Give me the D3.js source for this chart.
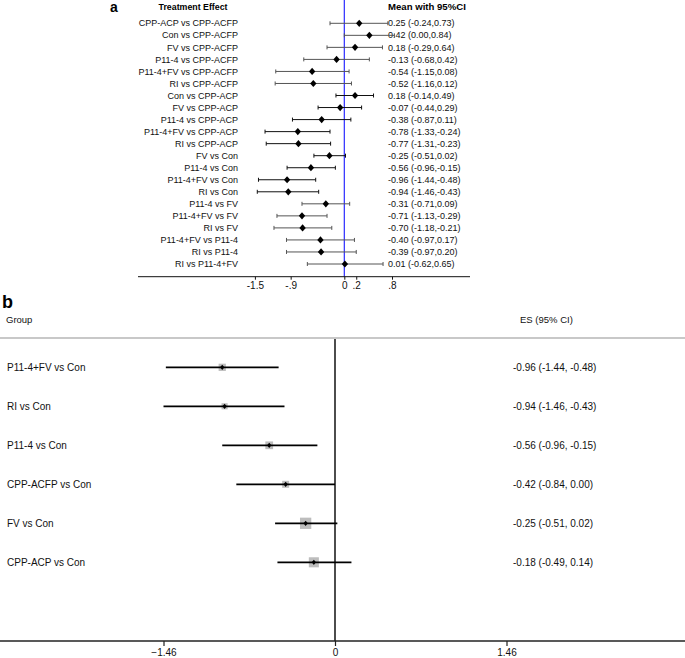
<!DOCTYPE html>
<html>
<head>
<meta charset="utf-8">
<script src="https://cdn.jsdelivr.net/npm/d3@7"></script>
<style>
  html, body { margin: 0; padding: 0; background: #fff; }
  svg { display: block; font-family: "Liberation Sans", Arial, Helvetica, sans-serif; }
</style>
</head>
<body>
<svg id="chart" width="685" height="658"></svg>
<script>
// ---------- Panel a data ----------
const labelsA = [
  "CPP-ACP vs CPP-ACFP", "Con vs CPP-ACFP", "FV vs CPP-ACFP", "P11-4 vs CPP-ACFP",
  "P11-4+FV vs CPP-ACFP", "RI vs CPP-ACFP", "Con vs CPP-ACP", "FV vs CPP-ACP",
  "P11-4 vs CPP-ACP", "P11-4+FV vs CPP-ACP", "RI vs CPP-ACP", "FV vs Con",
  "P11-4 vs Con", "P11-4+FV vs Con", "RI vs Con", "P11-4 vs FV",
  "P11-4+FV vs FV", "RI vs FV", "P11-4+FV vs P11-4", "RI vs P11-4", "RI vs P11-4+FV"
];
const meansA = [0.25, 0.42, 0.18, -0.13, -0.54, -0.52, 0.18, -0.07, -0.38, -0.78, -0.77,
  -0.25, -0.56, -0.96, -0.94, -0.31, -0.71, -0.70, -0.40, -0.39, 0.01];
const lowsA = [-0.24, 0.00, -0.29, -0.68, -1.15, -1.16, -0.14, -0.44, -0.87, -1.33, -1.31,
  -0.51, -0.96, -1.44, -1.46, -0.71, -1.13, -1.18, -0.97, -0.97, -0.62];
const highsA = [0.73, 0.84, 0.64, 0.42, 0.08, 0.12, 0.49, 0.29, 0.11, -0.24, -0.23,
  0.02, -0.15, -0.48, -0.43, 0.09, -0.29, -0.21, 0.17, 0.20, 0.65];
const ticksA = [-1.5, -0.9, 0, 0.2, 0.8];
const tickLabelsA = ["-1.5", "-.9", "0", ".2", ".8"];

// ---------- Panel b data ----------
const labelsB = ["P11-4+FV vs Con", "RI vs Con", "P11-4 vs Con", "CPP-ACFP vs Con", "FV vs Con", "CPP-ACP vs Con"];
const esB = [-0.96, -0.94, -0.56, -0.42, -0.25, -0.18];
const lowsB = [-1.44, -1.46, -0.96, -0.84, -0.51, -0.49];
const highsB = [-0.48, -0.43, -0.15, 0.00, 0.02, 0.14];
const weightsB = [14, 10, 16, 13, 34, 27];
const ticksB = [-1.46, 0, 1.46];

const svg = d3.select("#chart");
const f2 = v => v.toFixed(2);

// ================= Panel a =================
const gA = svg.append("g");
const xA = d3.scaleLinear().domain([-1.5, 0.8]).range([254.9, 392.0]);
const yA = d3.scalePoint().domain(labelsA).range([23.3, 264]);
const axisYA = 276.7;

gA.append("text").attr("x", 110).attr("y", 11.5).attr("font-size", 14).attr("font-weight", "bold").text("a");
gA.append("text").attr("x", 193).attr("y", 9.5).attr("font-size", 8.8).attr("font-weight", "bold")
  .attr("text-anchor", "middle").text("Treatment Effect");
gA.append("text").attr("x", 388).attr("y", 9.5).attr("font-size", 9.6).attr("font-weight", "bold")
  .text("Mean with 95%CI");

// zero reference line
gA.append("line").attr("x1", xA(0)).attr("x2", xA(0)).attr("y1", 0).attr("y2", axisYA)
  .attr("stroke", "#2a2aff").attr("stroke-width", 1.2);

const rowsA = labelsA.map((l, i) => ({ label: l, m: meansA[i], lo: lowsA[i], hi: highsA[i],
  comp: l.split(" vs ")[1] }));
const rowColor = d => (d.comp === "CPP-ACP" || d.comp === "Con") ? "#111" : "#555";

const rA = gA.selectAll("g.row").data(rowsA).join("g").attr("class", "row")
  .attr("transform", d => `translate(0,${yA(d.label)})`);
rA.append("text").attr("x", 238).attr("y", 0).attr("dy", "0.35em").attr("text-anchor", "end")
  .attr("font-size", 9).attr("fill", "#111").text(d => d.label);
rA.append("text").attr("x", 388).attr("y", 0).attr("dy", "0.35em")
  .attr("font-size", 9).attr("fill", "#111")
  .text(d => `${f2(d.m)} (${f2(d.lo)},${f2(d.hi)})`);
rA.append("line").attr("x1", d => xA(d.lo)).attr("x2", d => xA(d.hi)).attr("y1", 0).attr("y2", 0)
  .attr("stroke", rowColor).attr("stroke-width", 1);
rA.append("line").attr("x1", d => xA(d.lo)).attr("x2", d => xA(d.lo)).attr("y1", -2).attr("y2", 2)
  .attr("stroke", rowColor).attr("stroke-width", 1);
rA.append("line").attr("x1", d => xA(d.hi)).attr("x2", d => xA(d.hi)).attr("y1", -2).attr("y2", 2)
  .attr("stroke", rowColor).attr("stroke-width", 1);
rA.append("path").attr("d", d => {
  const x = xA(d.m);
  return `M${x},-3.6L${x + 3.2},0L${x},3.6L${x - 3.2},0Z`;
}).attr("fill", "#000");

// axis a
gA.append("line").attr("x1", 138).attr("x2", 470).attr("y1", axisYA).attr("y2", axisYA)
  .attr("stroke", "#111").attr("stroke-width", 1);
const axA = gA.append("g").attr("transform", `translate(0,${axisYA})`)
  .call(d3.axisBottom(xA).tickValues(ticksA).tickSize(3).tickPadding(2)
    .tickFormat((d, i) => tickLabelsA[i]));
axA.select(".domain").remove();
axA.selectAll(".tick line").attr("stroke", "#111");
axA.selectAll(".tick text").attr("font-size", 10).attr("fill", "#111")
  .attr("font-family", "'Liberation Sans', Arial, sans-serif");

// ================= Panel b =================
const gB = svg.append("g");
const xB = d3.scaleLinear().domain([-1.46, 1.46]).range([163.5, 506.5]);
const yB = d3.scalePoint().domain(labelsB).range([367.3, 562.3]);
const topLineY = 338, axisYB = 641;
const sizeB = d3.scaleSqrt().domain([0, d3.max(weightsB)]).range([0, 11.3]);

gB.append("text").attr("x", 2).attr("y", 308).attr("font-size", 18).attr("font-weight", "bold").text("b");
gB.append("text").attr("x", 6).attr("y", 323).attr("font-size", 9.5).attr("fill", "#111").text("Group");
gB.append("text").attr("x", 520).attr("y", 323).attr("font-size", 9.5).attr("fill", "#111").text("ES (95% CI)");

gB.append("line").attr("x1", 0).attr("x2", 685).attr("y1", topLineY).attr("y2", topLineY)
  .attr("stroke", "#c8c8c8").attr("stroke-width", 2);
gB.append("line").attr("x1", xB(0)).attr("x2", xB(0)).attr("y1", topLineY + 1).attr("y2", axisYB)
  .attr("stroke", "#000").attr("stroke-width", 1.4);

const rowsB = labelsB.map((l, i) => ({ label: l, m: esB[i], lo: lowsB[i], hi: highsB[i], w: weightsB[i] }));
const rB = gB.selectAll("g.rowb").data(rowsB).join("g").attr("class", "rowb")
  .attr("transform", d => `translate(0,${yB(d.label)})`);
rB.append("text").attr("x", 7).attr("y", 0).attr("dy", "0.35em").attr("font-size", 10)
  .attr("fill", "#111").text(d => d.label);
rB.append("text").attr("x", 513).attr("y", 0).attr("dy", "0.35em").attr("font-size", 10)
  .attr("fill", "#111").text(d => `${f2(d.m)} (${f2(d.lo)}, ${f2(d.hi)})`);
rB.append("rect")
  .attr("x", d => xB(d.m) - sizeB(d.w) / 2).attr("y", d => -sizeB(d.w) / 2)
  .attr("width", d => sizeB(d.w)).attr("height", d => sizeB(d.w))
  .attr("fill", "#bdbdbd");
rB.append("line").attr("x1", d => xB(d.lo)).attr("x2", d => xB(d.hi)).attr("y1", 0).attr("y2", 0)
  .attr("stroke", "#000").attr("stroke-width", 1.8);
rB.append("path").attr("d", d => {
  const x = xB(d.m);
  return `M${x},-2.6L${x + 2.2},0L${x},2.6L${x - 2.2},0Z`;
}).attr("fill", "#000");

// axis b
gB.append("line").attr("x1", 0).attr("x2", 685).attr("y1", axisYB).attr("y2", axisYB)
  .attr("stroke", "#222").attr("stroke-width", 1.4);
const axB = gB.append("g").attr("transform", `translate(0,${axisYB})`)
  .call(d3.axisBottom(xB).tickValues(ticksB).tickSize(5).tickPadding(3).tickFormat(d3.format("")));
axB.select(".domain").remove();
axB.selectAll(".tick line").attr("stroke", "#222").attr("stroke-width", 1.2);
axB.selectAll(".tick text").attr("font-size", 10).attr("fill", "#111")
  .attr("font-family", "'Liberation Sans', Arial, sans-serif");
</script>
</body>
</html>
